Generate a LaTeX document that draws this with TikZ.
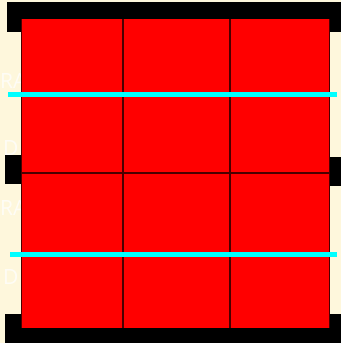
\documentclass[tikz,border=0pt]{standalone}
\usepackage{fontspec}
\setmainfont{Open Sans}
\definecolor{cream}{HTML}{FEF7DC}
\definecolor{gridline}{HTML}{4A0000}
\definecolor{cyanline}{HTML}{00FFFF}
\tikzset{
  bar/.style={fill=black},
  grid/.style={draw=gridline, line width=1.5pt},
  cyanbar/.style={draw=cyanline, line width=4.5pt},
  ghost/.style={text=white, font=\fontsize{21}{24}\selectfont, inner sep=0pt, anchor=base west, opacity=0.75}
}
\begin{document}
\begin{tikzpicture}[x=1pt,y=-1pt]
\fill[cream] (0,0) rectangle (341,343);
\useasboundingbox (0,0) rectangle (341,343);
% ghost text fragments
\node[ghost] (t1) at (0,88) {RA};
\node[ghost] (t2) at (3,155) {D};
\node[ghost] (t3) at (0,215) {RA};
\node[ghost] (t4) at (3,284) {D};
% black bars
\fill[bar] (7,2) rectangle (341,32);
\fill[bar] (5,314) rectangle (341,343);
\fill[bar] (5,155) rectangle (22,184);
\fill[bar] (330,157) rectangle (341,186);
% red panel
\fill[red] (21,19) rectangle (330,328);
\draw[gridline, line width=1.2pt] (21.5,19) -- (21.5,328);
% grid
\draw[grid] (123,19) -- (123,328);
\draw[grid] (230,19) -- (230,328);
\draw[grid] (21,94) -- (330,94);
\draw[grid] (21,173) -- (330,173);
\draw[grid] (21,254) -- (330,254);
\draw[gridline, line width=1pt] (329.5,19) -- (329.5,328);
% cyan lines
\coordinate (c1a) at (8,94.5);
\coordinate (c1b) at (337,94.5);
\coordinate (c2a) at (10,254.5);
\coordinate (c2b) at (337,254.5);
\draw[cyanbar] (c1a) -- (c1b);
\draw[cyanbar] (c2a) -- (c2b);
\end{tikzpicture}
\end{document}
